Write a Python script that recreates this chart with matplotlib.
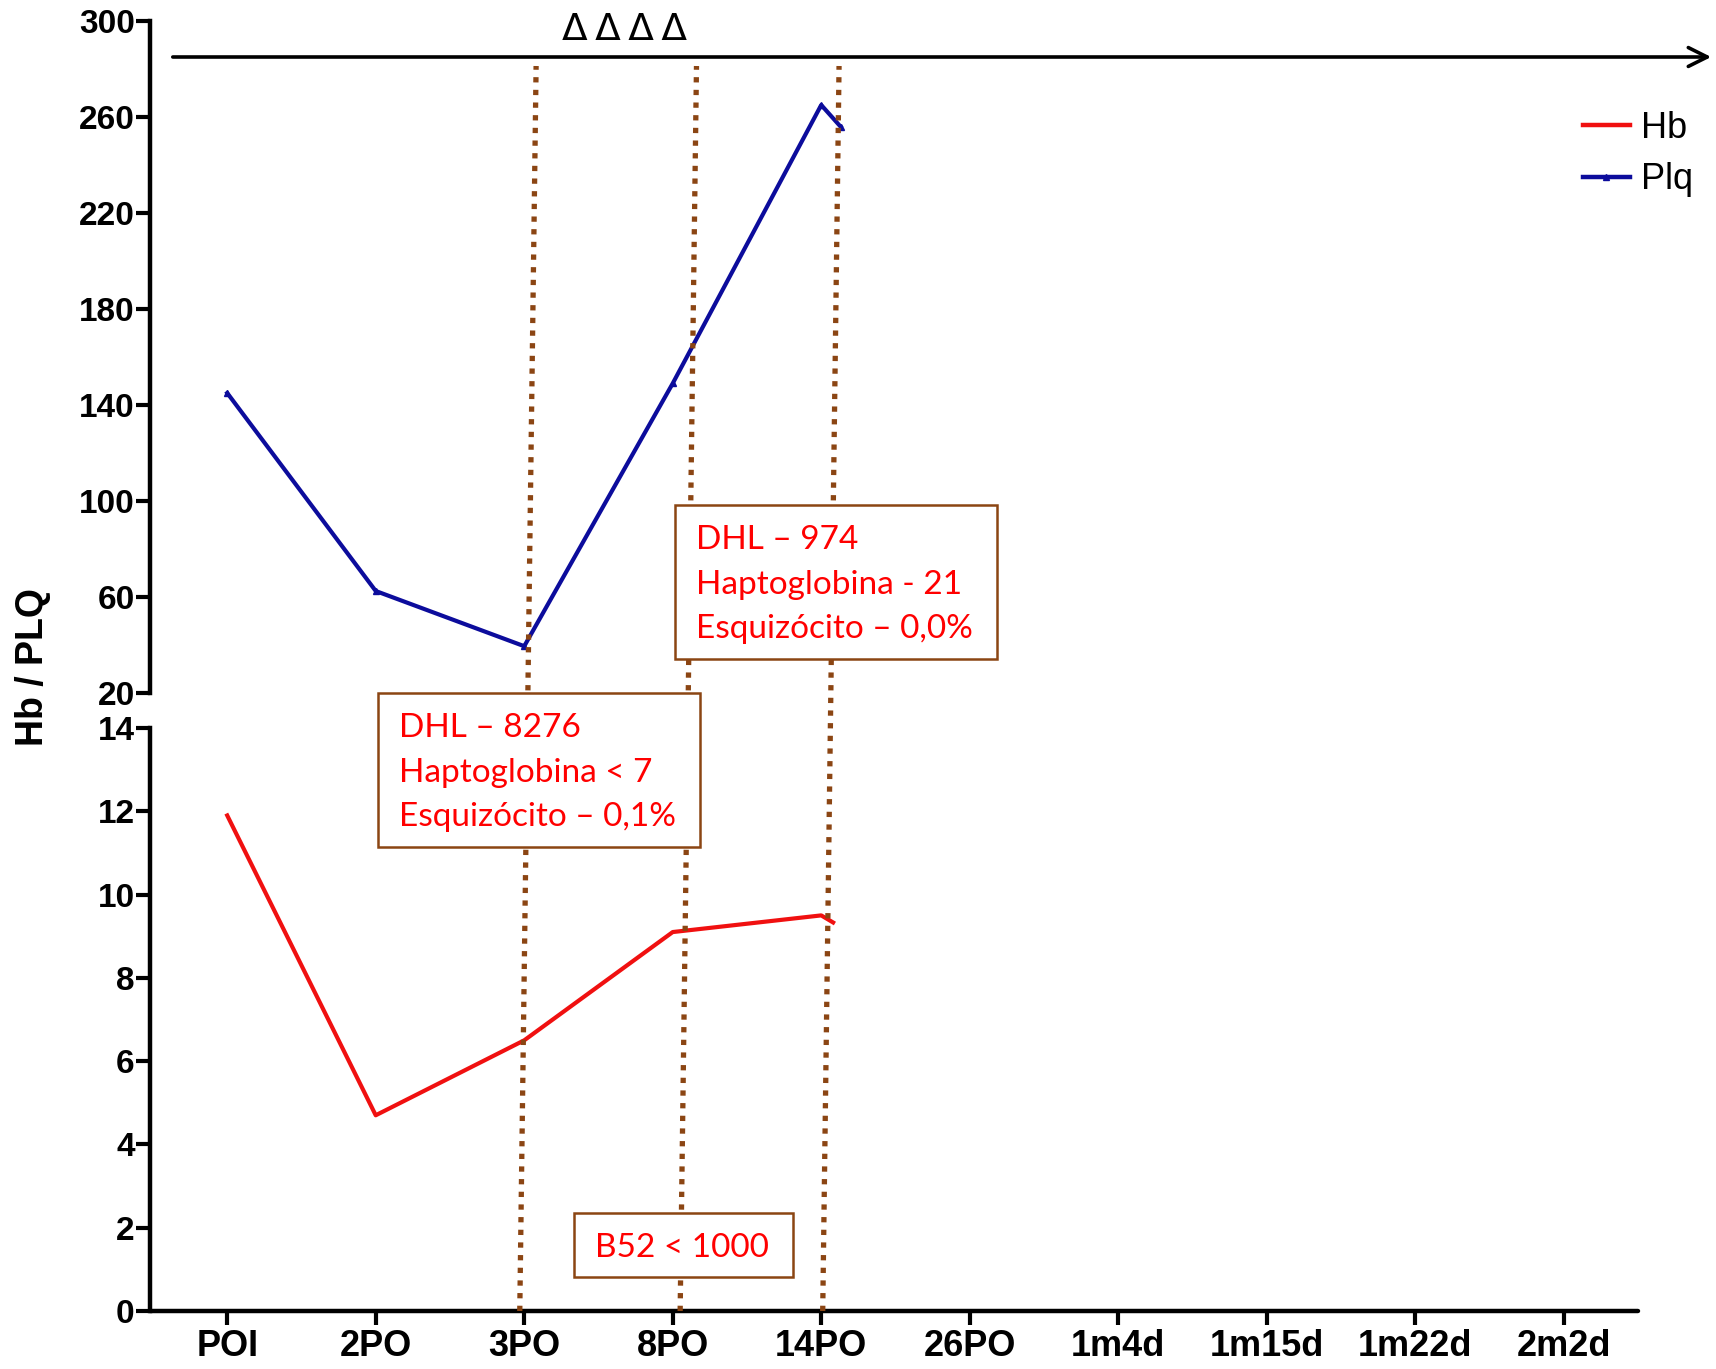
import matplotlib
matplotlib.use('Agg')
import matplotlib.pyplot as plt
from matplotlib.lines import Line2D
from matplotlib.patches import Rectangle, FancyArrowPatch
from matplotlib.transforms import blended_transform_factory

plt.rcParams['font.family'] = ['Liberation Sans', 'DejaVu Sans']

# dados
categories = ['POI', '2PO', '3PO', '8PO', '14PO', '26PO', '1m4d', '1m15d', '1m22d', '2m2d']
plq_x = [0, 1, 2, 3, 4, 4.13]
plq = [145, 62.5, 39.5, 149, 265, 256]
hb_x = [0, 1, 2, 3, 4, 4.08]
hb = [11.9, 4.7, 6.5, 9.1, 9.5, 9.33]

# marcos (linhas pontilhadas), posição no eixo x embaixo / em cima
event_bottom = [1.97, 3.05, 4.01]
event_top = [2.08, 3.16, 4.12]

boxes = [
    (['DHL – 974', 'Haptoglobina - 21', 'Esquizócito – 0,0%'], (675, 505, 997, 659)),
    (['DHL – 8276', 'Haptoglobina < 7', 'Esquizócito – 0,1%'], (378, 693, 700, 847)),
    (['B52 < 1000'], (574, 1213, 793, 1277)),
]

W, H = 1716, 1369
fig = plt.figure(figsize=(W / 100, H / 100), dpi=100)

def fx(px):
    return px / W

def fy(py):
    return 1 - py / H

left, right = fx(150), fx(1638)
ax_top = fig.add_axes([left, fy(693), right - left, fy(21) - fy(693)])
ax_bot = fig.add_axes([left, fy(1311), right - left, fy(728) - fy(1311)])

red = '#f01010'
blue = '#0c0c9c'
brown = '#8b4513'

ax_top.plot(plq_x, plq, color=blue, lw=3, marker='^', ms=5, label='Plq')
ax_bot.plot(hb_x, hb, color=red, lw=3, label='Hb')

xlim = (-0.52, 9.5)
for ax in (ax_top, ax_bot):
    ax.set_xlim(*xlim)
    for s in ('top', 'right'):
        ax.spines[s].set_visible(False)
    ax.spines['left'].set_linewidth(3.2)
    ax.tick_params(axis='y', width=3, length=10, pad=1)

ax_top.set_ylim(20, 300)
ax_top.set_yticks(range(20, 301, 40))
ax_top.spines['bottom'].set_visible(False)
ax_top.set_xticks([])

ax_bot.set_ylim(0, 14)
ax_bot.set_yticks(range(0, 15, 2))
ax_bot.spines['bottom'].set_linewidth(3.2)
ax_bot.spines['bottom'].set_capstyle('round')
ax_bot.set_xticks(range(len(categories)))
ax_bot.set_xticklabels(categories, fontweight='bold', fontsize=26)
ax_bot.tick_params(axis='x', width=3, length=10, pad=3)
for ax in (ax_top, ax_bot):
    for lab in ax.get_yticklabels():
        lab.set_fontweight('bold')
        lab.set_fontsize(24)

fig.text(fx(33), fy(667), 'Hb / PLQ', rotation=90, fontsize=27, fontweight='bold',
         ha='center', va='center')

# linhas pontilhadas
tr = blended_transform_factory(ax_bot.transData, fig.transFigure)
for xb, xt in zip(event_bottom, event_top):
    fig.add_artist(Line2D([xb, xt], [fy(1311), fy(66)], transform=tr, color=brown,
                          lw=3.8, linestyle=(0, (1, 1.4)), solid_capstyle='butt',
                          dash_capstyle='butt', zorder=3))

# seta do topo
fig.add_artist(FancyArrowPatch((fx(170), fy(57)), (fx(1714), fy(57)), transform=fig.transFigure,
                               arrowstyle='->', mutation_scale=34, lw=2.6, color='black'))
fig.text(fx(624), fy(30), 'Δ\u2009Δ\u2009Δ\u2009Δ', fontsize=27, family='DejaVu Sans',
         ha='center', va='center')

# caixas de texto
for lines, (x0, y0, x1, y1) in boxes:
    fig.add_artist(Rectangle((fx(x0), fy(y1)), fx(x1) - fx(x0), fy(y0) - fy(y1),
                             transform=fig.transFigure, facecolor='white', edgecolor=brown,
                             lw=1.8, zorder=4))
    base = y0 + 44
    for i, t in enumerate(lines):
        fig.text(fx(x0 + 21), fy(base + 44.5 * i), t, color='#ff0000', fontsize=24,
                 family='Lato', va='baseline', ha='left', zorder=5)

# legenda
handles = [Line2D([], [], color=red, lw=3.2),
           Line2D([], [], color=blue, lw=3.2, marker='^', ms=5)]
fig.legend(handles, ['Hb', 'Plq'], loc='upper left', bbox_to_anchor=(fx(1583), fy(111)),
           frameon=False, fontsize=26, handlelength=1.3, handletextpad=0.3,
           labelspacing=0.45, borderpad=0, borderaxespad=0)

fig.savefig('out.png', dpi=100)
